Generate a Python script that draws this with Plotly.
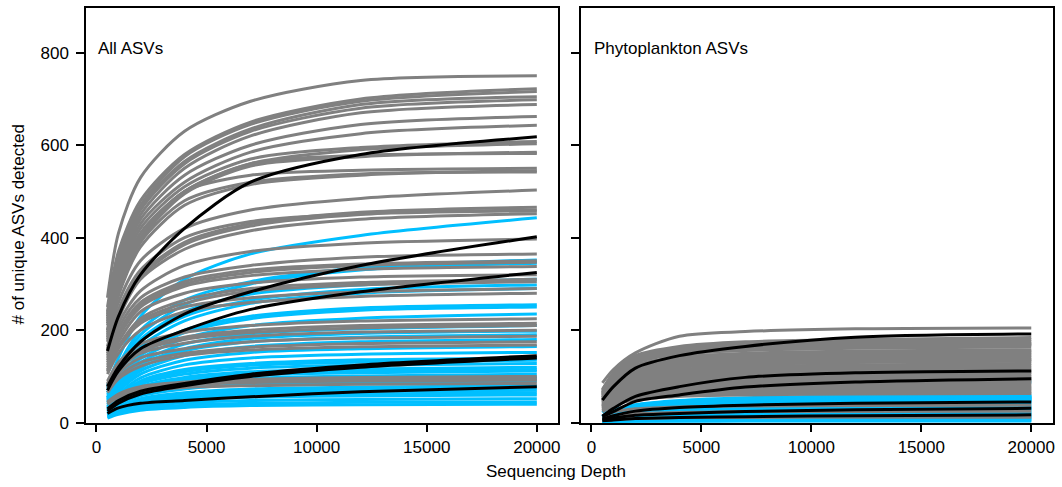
import plotly.graph_objects as go

# ---------------- data ----------------
DEPTH = [500, 1000, 2000, 4000, 7000, 12000, 20000]
XTICKS = [0, 5000, 10000, 15000, 20000]
YTICKS = [0, 200, 400, 600, 800]

# All ASVs panel (values at DEPTH)
GRAY_ALL = [
    [270, 410, 530, 630, 695, 740, 750],
    [250, 370, 480, 580, 650, 700, 722],
    [240, 360, 470, 575, 645, 695, 716],
    [230, 350, 460, 560, 630, 680, 698],
    [225, 340, 450, 550, 620, 670, 688],
    [220, 330, 440, 535, 600, 645, 662],
    [215, 320, 430, 520, 585, 625, 643],
    [210, 310, 420, 510, 570, 595, 608],
    [200, 300, 410, 500, 560, 590, 603],
    [200, 300, 400, 500, 560, 578, 582],
    [190, 290, 400, 500, 535, 546, 550],
    [185, 280, 390, 480, 520, 538, 542],
    [175, 260, 350, 420, 460, 485, 503],
    [160, 240, 320, 390, 430, 455, 466],
    [165, 245, 330, 400, 435, 452, 460],
    [150, 225, 310, 375, 415, 440, 452],
    [145, 215, 285, 340, 370, 388, 397],
    [140, 205, 270, 315, 340, 358, 365],
    [130, 190, 255, 300, 325, 340, 347],
    [125, 185, 250, 295, 318, 332, 338],
    [120, 175, 240, 280, 302, 315, 320],
    [115, 165, 225, 265, 290, 303, 310],
    [110, 160, 215, 250, 270, 283, 290],
    [105, 150, 200, 240, 260, 273, 280],
    [90, 130, 170, 195, 210, 220, 225],
    [85, 125, 160, 185, 200, 210, 215],
    [80, 115, 150, 172, 187, 196, 200],
    [75, 108, 140, 160, 175, 183, 187],
    [70, 100, 130, 150, 163, 171, 175],
    [65, 95, 122, 145, 157, 164, 168],
    [45, 62, 78, 88, 94, 98, 100],
    [42, 58, 72, 82, 87, 90, 92],
    [40, 55, 67, 76, 80, 83, 85],
    [195, 290, 395, 495, 555, 575, 585],
    [180, 275, 380, 470, 515, 535, 545],
    [155, 230, 315, 385, 425, 450, 458],
    [135, 195, 260, 305, 330, 343, 350],
    [112, 162, 220, 258, 285, 298, 305],
    [82, 120, 155, 180, 195, 205, 210],
    [44, 60, 74, 85, 90, 93, 95],
    [235, 355, 465, 565, 635, 688, 705],
]

BLUE_ALL = [
    [80, 140, 230, 310, 365, 405, 443],
    [75, 125, 200, 265, 305, 335, 352],
    [70, 120, 190, 255, 300, 330, 345],
    [65, 110, 175, 230, 265, 288, 298],
    [60, 105, 165, 220, 258, 280, 290],
    [55, 95, 150, 200, 230, 248, 255],
    [55, 92, 145, 195, 225, 243, 250],
    [50, 85, 130, 170, 192, 203, 210],
    [48, 80, 125, 160, 182, 193, 198],
    [45, 75, 118, 155, 175, 185, 190],
    [40, 68, 105, 135, 152, 160, 165],
    [38, 62, 97, 125, 140, 148, 152],
    [35, 58, 90, 115, 128, 136, 140],
    [32, 55, 83, 105, 118, 124, 128],
    [30, 50, 78, 98, 110, 116, 120],
    [28, 47, 72, 92, 103, 108, 112],
    [26, 44, 68, 85, 96, 101, 105],
    [25, 42, 63, 80, 90, 95, 98],
    [22, 38, 58, 73, 83, 87, 90],
    [20, 34, 52, 65, 73, 77, 80],
    [18, 30, 45, 57, 64, 68, 70],
    [16, 27, 40, 50, 55, 58, 60],
    [14, 24, 35, 43, 48, 50, 52],
    [12, 21, 31, 38, 42, 44, 45],
    [10, 18, 27, 33, 37, 39, 40],
    [34, 57, 87, 110, 124, 131, 135],
    [29, 48, 75, 95, 106, 111, 115],
    [19, 32, 48, 60, 68, 72, 75],
    [17, 28, 42, 53, 59, 62, 65],
    [44, 72, 112, 145, 165, 175, 180],
    [52, 88, 138, 182, 210, 226, 235],
    [65, 112, 180, 240, 278, 298, 310],
]

BLACK_ALL = [
    [155, 230, 320, 420, 520, 580, 618],
    [78, 120, 175, 235, 283, 340, 402],
    [70, 112, 160, 200, 245, 283, 325],
    [30, 48, 68, 85, 105, 125, 145],
    [25, 42, 62, 80, 100, 120, 140],
    [20, 32, 42, 48, 56, 67, 78],
]

# Phytoplankton ASVs panel (values at DEPTH)
GRAY_PHYTO = [
    [86, 115, 151, 187, 197, 203, 205],
    [70, 108, 145, 165, 175, 180, 184],
    [72, 106, 142, 162, 171, 177, 180],
    [66, 100, 138, 158, 168, 173, 176],
    [68, 102, 136, 155, 164, 169, 172],
    [64, 98, 133, 152, 162, 167, 170],
    [62, 96, 132, 150, 160, 165, 168],
    [64, 97, 130, 148, 156, 161, 164],
    [60, 92, 125, 142, 150, 155, 158],
    [58, 90, 122, 140, 148, 152, 155],
    [60, 90, 120, 137, 145, 149, 152],
    [56, 86, 117, 133, 141, 145, 148],
    [55, 85, 115, 130, 138, 142, 145],
    [54, 82, 112, 127, 134, 138, 141],
    [52, 80, 108, 123, 130, 134, 137],
    [50, 77, 105, 120, 128, 132, 135],
    [50, 78, 105, 120, 126, 130, 133],
    [50, 75, 101, 115, 122, 125, 128],
    [48, 72, 98, 112, 118, 121, 124],
    [46, 70, 95, 108, 114, 117, 120],
    [45, 68, 92, 104, 110, 113, 116],
    [43, 65, 88, 101, 106, 110, 112],
    [42, 63, 85, 97, 103, 106, 108],
    [40, 61, 82, 94, 99, 102, 104],
    [38, 58, 79, 90, 95, 98, 100],
    [37, 57, 77, 87, 92, 95, 97],
    [36, 55, 74, 85, 89, 92, 94],
    [35, 54, 73, 83, 88, 90, 92],
    [35, 53, 71, 81, 86, 88, 90],
    [33, 51, 69, 78, 83, 85, 87],
    [32, 49, 66, 76, 80, 82, 84],
    [31, 47, 63, 72, 76, 78, 80],
    [30, 45, 61, 69, 73, 75, 77],
    [28, 43, 58, 67, 70, 72, 74],
    [27, 42, 56, 64, 67, 70, 71],
    [26, 40, 54, 61, 65, 67, 68],
    [25, 38, 51, 58, 62, 64, 65],
    [24, 37, 50, 57, 60, 62, 63],
    [15, 23, 30, 34, 36, 37, 38],
    [10, 15, 20, 22, 24, 24, 25],
    [5, 7, 9, 11, 11, 12, 12],
]

BLUE_PHYTO = [
    [22, 40, 57, 70, 79, 84, 88],
    [15, 27, 39, 48, 54, 58, 60],
    [15, 26, 38, 46, 52, 56, 58],
    [14, 26, 37, 46, 51, 55, 57],
    [14, 25, 36, 45, 50, 54, 56],
    [14, 25, 36, 44, 50, 53, 55],
    [13, 24, 35, 43, 49, 52, 54],
    [13, 24, 34, 42, 48, 51, 53],
    [13, 23, 34, 42, 47, 50, 52],
    [13, 23, 33, 41, 46, 49, 51],
    [12, 22, 32, 40, 45, 48, 50],
    [12, 22, 32, 39, 44, 47, 49],
    [12, 22, 31, 38, 43, 46, 48],
    [11, 21, 30, 37, 41, 44, 46],
    [11, 20, 29, 35, 40, 42, 44],
    [10, 18, 26, 32, 36, 38, 40],
    [9, 16, 23, 29, 32, 35, 36],
    [8, 15, 21, 26, 30, 32, 33],
    [8, 14, 20, 25, 28, 30, 31],
    [7, 13, 19, 24, 27, 29, 30],
    [7, 13, 18, 22, 25, 27, 28],
    [6, 11, 16, 20, 22, 24, 25],
    [5, 10, 14, 18, 20, 21, 22],
    [5, 9, 13, 16, 18, 19, 20],
    [4, 8, 12, 14, 16, 17, 18],
    [4, 7, 10, 12, 13, 14, 15],
    [3, 6, 8, 10, 12, 12, 13],
    [3, 5, 7, 9, 10, 11, 11],
    [2, 4, 6, 7, 8, 9, 9],
    [2, 3, 5, 6, 6, 7, 7],
    [1, 2, 3, 4, 5, 5, 5],
    [1, 1, 2, 2, 3, 3, 3],
]

BLACK_PHYTO = [
    [49, 78, 118, 145, 165, 185, 192],
    [14, 31, 57, 78, 98, 108, 112],
    [13, 24, 46, 60, 77, 88, 95],
    [8, 15, 25, 33, 38, 42, 45],
    [6, 10, 16, 20, 24, 28, 31],
    [4, 6, 9, 11, 13, 15, 17],
]

PANEL_LABELS = ["All ASVs", "Phytoplankton ASVs"]
Y_TITLE = "# of unique ASVs detected"
X_TITLE = "Sequencing Depth"

# ---------------- style ----------------
GRAY = "#808080"
BLUE = "#00BFFF"
BLACK = "#000000"
FONT = "Liberation Sans, Arial, Helvetica, sans-serif"
W, H = 1062, 487
LW = 3.0

fig = go.Figure()


def add_rows(rows, color, xa, ya, width):
    for r in rows:
        fig.add_trace(go.Scatter(
            x=DEPTH, y=r, mode="lines", xaxis=xa, yaxis=ya,
            line=dict(color=color, width=width, shape="spline", smoothing=0.8),
            hoverinfo="skip", showlegend=False,
        ))


for xa, ya, g, b, k in [("x", "y", GRAY_ALL, BLUE_ALL, BLACK_ALL),
                        ("x2", "y2", GRAY_PHYTO, BLUE_PHYTO, BLACK_PHYTO)]:
    add_rows(b, BLUE, xa, ya, LW)
    add_rows(g, GRAY, xa, ya, LW)
    add_rows(k, BLACK, xa, ya, LW)


def px_x(p):
    return p / W


def px_y(p):
    return (H - p) / H


ydom = [px_y(422.7), px_y(8.3)]
common = dict(showline=True, linewidth=1.5, linecolor="black", mirror=True,
              ticks="outside", ticklen=8, tickwidth=1.5, tickcolor="black",
              showgrid=False, zeroline=False, automargin=False,
              tickfont=dict(family=FONT, size=17, color="black"))

fig.update_layout(
    width=W, height=H, margin=dict(l=0, r=0, t=0, b=0),
    paper_bgcolor="white", plot_bgcolor="white", showlegend=False,
    font=dict(family=FONT, size=17, color="black"),
    xaxis=dict(domain=[px_x(86), px_x(558.3)], range=[-475, 20975],
               tickvals=XTICKS, tickformat="d", anchor="y", **common),
    xaxis2=dict(domain=[px_x(581), px_x(1052.7)], range=[-475, 20975],
                tickvals=XTICKS, tickformat="d", anchor="y2", **common),
    yaxis=dict(domain=ydom, range=[0, 896], tickvals=YTICKS, anchor="x",
               ticklabelstandoff=4, **common),
    yaxis2=dict(domain=ydom, range=[0, 896], tickvals=YTICKS, anchor="x2",
                showticklabels=False, **common),
)

ann = [
    dict(text=PANEL_LABELS[0], x=px_x(96), y=px_y(48.5), xanchor="left", yanchor="middle"),
    dict(text=PANEL_LABELS[1], x=px_x(592), y=px_y(48.5), xanchor="left", yanchor="middle"),
    dict(text=X_TITLE, x=px_x(555.5), y=px_y(471), xanchor="center", yanchor="middle"),
    dict(text=Y_TITLE, x=px_x(18), y=px_y(224.5), xanchor="center", yanchor="middle", textangle=-90),
]
for a in ann:
    fig.add_annotation(xref="paper", yref="paper", showarrow=False,
                       font=dict(family=FONT, size=17, color="black"), **a)

fig.write_html("out.html")
